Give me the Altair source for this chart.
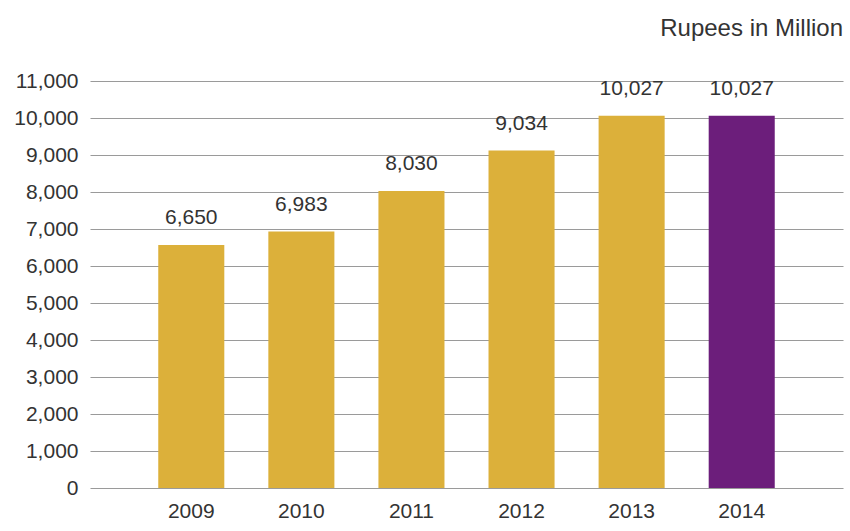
import altair as alt
import pandas as pd

years = ["2009", "2010", "2011", "2012", "2013", "2014"]
bar_values = [6570, 6930, 8030, 9120, 10060, 10060]
label_texts = ["6,650", "6,983", "8,030", "9,034", "10,027", "10,027"]
highlight = ["base", "base", "base", "base", "base", "current"]
y_ticks = [0, 1000, 2000, 3000, 4000, 5000, 6000, 7000, 8000, 9000, 10000, 11000]

df = pd.DataFrame({"year": years, "value": bar_values, "label": label_texts, "group": highlight})

FONT = "Liberation Sans"
TXT = "#333333"

x_enc = alt.X("year:N", sort=years, title=None,
              scale=alt.Scale(paddingInner=0.4, paddingOuter=0.62),
              axis=alt.Axis(labelAngle=0, labelFontSize=21, labelFont=FONT, labelColor=TXT,
                            ticks=False, domain=False, labelPadding=12, grid=False))

y_enc = alt.Y("value:Q", title=None,
              scale=alt.Scale(domain=[0, 11000], nice=False),
              axis=alt.Axis(values=y_ticks, format=",.0f", labelOverlap=False,
                            labelFontSize=21, labelFont=FONT, labelColor=TXT,
                            ticks=False, domain=False, labelPadding=12,
                            gridColor="#9a9a9a", gridWidth=1.2))

base = alt.Chart(df).encode(x=x_enc, y=y_enc)

bars = base.mark_bar().encode(
    color=alt.Color("group:N", legend=None,
                    scale=alt.Scale(domain=["base", "current"], range=["#DCB03A", "#6C1E7B"])),
)

labels = base.mark_text(baseline="middle", dy=-27, fontSize=21, font=FONT, color=TXT).encode(
    text="label:N",
)

chart = (bars + labels).properties(
    width=753,
    height=407,
    autosize=alt.AutoSizeParams(type="none"),
    padding={"left": 90, "top": 81, "right": 7, "bottom": 43},
    title=alt.TitleParams("Rupees in Million", anchor="end", fontSize=24, fontWeight="normal",
                          font=FONT, color=TXT, offset=29),
).configure_view(stroke=None)

chart.save("out.html", embed_options={"renderer": "svg", "actions": False})
